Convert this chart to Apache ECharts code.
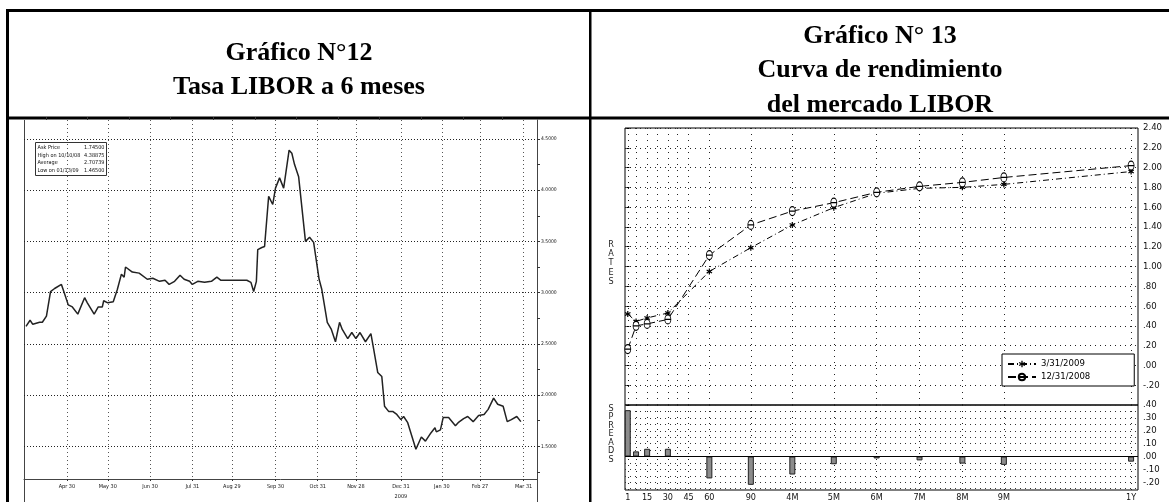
<!DOCTYPE html>
<html><head><meta charset="utf-8">
<script src="https://cdn.jsdelivr.net/npm/echarts@6/dist/echarts.min.js"></script>
<style>html,body{margin:0;padding:0;background:#fff}#c{width:1169px;height:502px}</style>
</head><body><div id="c"></div>
<script>
// ---------- Gráfico 12 : LIBOR 6 meses ----------
const liborDates = ['2008-03-31','2008-04-03','2008-04-05','2008-04-10','2008-04-12','2008-04-15','2008-04-18','2008-04-21','2008-04-26','2008-04-28',
'2008-05-01','2008-05-04','2008-05-08','2008-05-13','2008-05-15','2008-05-20','2008-05-23','2008-05-26','2008-05-27','2008-05-30',
'2008-06-03','2008-06-06','2008-06-09','2008-06-11','2008-06-12','2008-06-17','2008-06-22','2008-06-28','2008-07-02','2008-07-07',
'2008-07-11','2008-07-14','2008-07-18','2008-07-22','2008-07-25','2008-07-29','2008-07-31','2008-08-04','2008-08-09','2008-08-14',
'2008-08-18','2008-08-21','2008-08-29','2008-09-09','2008-09-12','2008-09-14','2008-09-16','2008-09-17','2008-09-20','2008-09-22',
'2008-09-25','2008-09-28','2008-09-30','2008-10-03','2008-10-06','2008-10-10','2008-10-12','2008-10-14','2008-10-17','2008-10-22',
'2008-10-25','2008-10-28','2008-10-31','2008-11-01','2008-11-03','2008-11-07','2008-11-10','2008-11-13','2008-11-16','2008-11-18',
'2008-11-22','2008-11-25','2008-11-28','2008-12-01','2008-12-05','2008-12-09','2008-12-11','2008-12-14','2008-12-17','2008-12-19',
'2008-12-22','2008-12-25','2008-12-28','2008-12-31','2009-01-02','2009-01-05','2009-01-08','2009-01-11','2009-01-12','2009-01-15',
'2009-01-18','2009-01-22','2009-01-25','2009-01-26','2009-01-29','2009-01-31','2009-02-04','2009-02-09','2009-02-11','2009-02-15',
'2009-02-18','2009-02-22','2009-02-26','2009-03-02','2009-03-05','2009-03-09','2009-03-12','2009-03-16','2009-03-19','2009-03-22',
'2009-03-26','2009-03-29'];
const liborValues = [2.67,2.73,2.69,2.71,2.71,2.77,3.01,3.04,3.08,3.00,
2.88,2.86,2.79,2.95,2.90,2.79,2.86,2.86,2.92,2.90,
2.91,3.03,3.18,3.15,3.25,3.20,3.19,3.13,3.14,3.11,
3.12,3.08,3.11,3.17,3.13,3.11,3.08,3.11,3.10,3.11,
3.15,3.12,3.12,3.12,3.10,3.01,3.11,3.42,3.44,3.45,
3.94,3.86,4.02,4.12,4.02,4.39,4.36,4.25,4.13,3.50,
3.54,3.49,3.22,3.13,3.03,2.71,2.64,2.52,2.71,2.64,
2.55,2.61,2.55,2.61,2.52,2.60,2.45,2.22,2.18,1.89,
1.84,1.84,1.81,1.76,1.79,1.73,1.60,1.47,1.48,1.59,
1.55,1.63,1.68,1.64,1.66,1.78,1.78,1.70,1.73,1.77,
1.79,1.74,1.80,1.81,1.86,1.97,1.91,1.89,1.74,1.76,
1.79,1.74];
const liborTickDates = ['2008-04-30','2008-05-30','2008-06-30','2008-07-31','2008-08-29','2008-09-30','2008-10-31','2008-11-28','2008-12-31','2009-01-30','2009-02-27','2009-03-31'];
const liborTickLabels = ['Apr 30','May 30','Jun 30','Jul 31','Aug 29','Sep 30','Oct 31','Nov 28','Dec 31\n2009','Jan 30','Feb 27','Mar 31'];
const liborMinorDates = ['2008-04-15','2008-05-15','2008-06-15','2008-07-15','2008-08-15','2008-09-15','2008-10-15','2008-11-15','2008-12-15','2009-01-15','2009-02-15','2009-03-15'];
const liborYTicks = [1.5,2.0,2.5,3.0,3.5,4.0,4.5];
const liborYMinor = [1.25,1.5,1.75,2.0,2.25,2.5,2.75,3.0,3.25,3.5,3.75,4.0,4.25,4.5];
const liborStatLabels = ['Ask Price','High on 10/10/08','Average','Low on 01/13/09'];
const liborStatValues = ['1.74500','4.38875','2.70739','1.46500'];

// ---------- Gráfico 13 : curva LIBOR ----------
const tenorDays = [1,7,15,30,60,90,120,150,181,212,243,273,365];
const rates2009 = [0.52,0.445,0.48,0.53,0.95,1.19,1.42,1.595,1.74,1.79,1.80,1.83,1.96];
const rates2008 = [0.165,0.40,0.42,0.465,1.115,1.42,1.56,1.645,1.75,1.81,1.85,1.90,2.02];
const spreads = [0.36,0.04,0.06,0.06,-0.17,-0.22,-0.14,-0.06,-0.015,-0.03,-0.055,-0.065,-0.04];
const tenorLabelDays = [1,15,30,45,60,90,120,150,181,212,243,273,365];
const tenorLabels = ['1','15','30','45','60','90','4M','5M','6M','7M','8M','9M','1Y'];
const tenorGridDays = [1,7,15,22,30,37,45,60,90,120,150,181,212,243,273,365];
const spreadLabelTicks = [-0.2,-0.1,0,0.1,0.2,0.3,0.4];
const spreadGridTicks = [-0.25,-0.2,-0.15,-0.1,-0.05,0,0.05,0.1,0.15,0.2,0.25,0.3,0.35,0.4];
const seriesNames = ['3/31/2009','12/31/2008'];

function ts(s){const p=s.split('-').map(Number);return new Date(p[0],p[1]-1,p[2]).getTime();}
const tickTs = liborTickDates.map(ts);
const minorTs = liborMinorDates.map(ts);
const xMin = new Date(2008,2,29,13).getTime();
const xMax = new Date(2009,3,9,20).getTime();
const fmtRate = v => { const a = Math.abs(v); let s = a.toFixed(2); if (a < 1) s = s.slice(1); return (v < -1e-9 ? '-' : '') + s; };
const NARROW = '"Liberation Sans Narrow","DejaVu Sans Condensed","Liberation Sans",sans-serif';

const asteriskPath = 'path://M4,0h2v3.3l2.9-1.6l1,1.7L7,5l2.9,1.6l-1,1.7L6,6.7V10H4V6.7L1.1,8.3l-1-1.7L3,5L0.1,3.4l1-1.7L4,3.3z';
const thetaPath = 'path://M5,0C2.2,0,0,3.1,0,7s2.2,7,5,7s5-3.1,5-7S7.8,0,5,0z M0.5,7L9.5,7';

const chart = echarts.init(document.getElementById('c'), null, {renderer:'canvas'});

const titleFont = 'bold 26px "Liberation Serif","Times New Roman",serif';
const graphics = [
  {type:'rect', shape:{x:6,y:9,width:1163,height:3}, style:{fill:'#000'}},
  {type:'rect', shape:{x:6,y:9,width:3,height:493}, style:{fill:'#000'}},
  {type:'rect', shape:{x:6,y:116.5,width:1163,height:3}, style:{fill:'#000'}},
  {type:'rect', shape:{x:589,y:9,width:2.5,height:493}, style:{fill:'#000'}},
  {type:'text', x:299, y:53, style:{text:'Gráfico N°12', font:titleFont, fill:'#000', textAlign:'center', textVerticalAlign:'middle'}},
  {type:'text', x:299, y:87, style:{text:'Tasa LIBOR a 6 meses', font:titleFont, fill:'#000', textAlign:'center', textVerticalAlign:'middle'}},
  {type:'text', x:880, y:36, style:{text:'Gráfico N° 13', font:titleFont, fill:'#000', textAlign:'center', textVerticalAlign:'middle'}},
  {type:'text', x:880, y:70.5, style:{text:'Curva de rendimiento', font:titleFont, fill:'#000', textAlign:'center', textVerticalAlign:'middle'}},
  {type:'text', x:880, y:105, style:{text:'del mercado LIBOR', font:titleFont, fill:'#000', textAlign:'center', textVerticalAlign:'middle'}},
  {type:'line', shape:{x1:24.5,y1:120,x2:24.5,y2:502}, style:{stroke:'#444',lineWidth:1}},
  {type:'line', shape:{x1:537.5,y1:120,x2:537.5,y2:502}, style:{stroke:'#444',lineWidth:1}},
  {type:'rect', shape:{x:35.5,y:142.5,width:71,height:33}, style:{fill:'#fff',stroke:'#333',lineWidth:1}},
  {type:'text', x:611, y:263, style:{text:'R\nA\nT\nE\nS', font:'9px '+NARROW, lineHeight:9.3, fill:'#222', textAlign:'center', textVerticalAlign:'middle'}},
  {type:'text', x:611, y:434, style:{text:'S\nP\nR\nE\nA\nD\nS', font:'9px '+NARROW, lineHeight:8.5, fill:'#222', textAlign:'center', textVerticalAlign:'middle'}}
];
liborStatLabels.forEach((l,i)=>{
  graphics.push({type:'text', x:37.5, y:148+i*7.5, style:{text:l, font:'5.5px '+NARROW, fill:'#111', textAlign:'left', textVerticalAlign:'middle'}});
  graphics.push({type:'text', x:104.5, y:148+i*7.5, style:{text:liborStatValues[i], font:'5.5px '+NARROW, fill:'#111', textAlign:'right', textVerticalAlign:'middle'}});
});

const option = {
  animation:false,
  backgroundColor:'#fff',
  legend:{
    data:seriesNames, orient:'vertical', left:1002, top:354,
    backgroundColor:'#fff', borderColor:'#000', borderWidth:1, borderRadius:0,
    padding:[5,44,4,5], itemWidth:28, itemHeight:8, itemGap:3,
    textStyle:{fontSize:9.5, lineHeight:10, fontFamily:NARROW, color:'#000'}
  },
  grid:[
    {left:24, top:120, width:513, height:360, show:false},
    {left:625, top:128, width:513, height:277, show:true, borderColor:'#000', borderWidth:1, backgroundColor:'transparent'},
    {left:625, top:405, width:513, height:87, show:true, borderColor:'#000', borderWidth:1, backgroundColor:'transparent'}
  ],
  xAxis:[
    {type:'value', gridIndex:0, min:xMin, max:xMax,
     axisLine:{show:true, lineStyle:{color:'#444', width:1}},
     axisTick:{show:true, customValues:tickTs, length:2, lineStyle:{color:'#333'}},
     axisLabel:{customValues:tickTs, fontSize:5.5, fontFamily:NARROW, color:'#111', margin:3, lineHeight:10,
       formatter:(v)=>{const i=tickTs.indexOf(v);return i>=0?liborTickLabels[i]:'';}},
     splitLine:{show:true, lineStyle:{color:'#555', type:[1,3], width:1}}},
    {type:'value', gridIndex:0, min:xMin, max:xMax,
     axisLine:{show:false}, axisLabel:{show:false}, splitLine:{show:false},
     axisTick:{show:true, customValues:minorTs, length:3, lineStyle:{color:'#333'}}},
    {type:'value', gridIndex:1, min:-1, max:370,
     axisLine:{show:false}, axisLabel:{show:false},
     axisTick:{show:false, customValues:tenorGridDays},
     splitLine:{show:true, lineStyle:{color:'#222', type:[1,5], width:1}}},
    {type:'value', gridIndex:2, min:-1, max:370,
     axisLine:{show:false},
     axisTick:{show:false, customValues:tenorGridDays},
     axisLabel:{customValues:tenorLabelDays, fontSize:9, fontFamily:NARROW, color:'#111', margin:3,
       formatter:(v)=>{const i=tenorLabelDays.indexOf(v);return i>=0?tenorLabels[i]:'';}},
     splitLine:{show:true, lineStyle:{color:'#222', type:[1,5], width:1}}}
  ],
  yAxis:[
    {type:'value', gridIndex:0, position:'right', min:1.18, max:4.685,
     axisLine:{show:true, lineStyle:{color:'#444', width:1}},
     axisTick:{show:true, customValues:liborYMinor, length:3, lineStyle:{color:'#333'}},
     axisLabel:{customValues:liborYTicks, fontSize:5, fontFamily:NARROW, color:'#111', margin:4, formatter:v=>v.toFixed(4)},
     splitLine:{show:false}},
    {type:'value', gridIndex:0, position:'right', min:1.18, max:4.685,
     axisLine:{show:false}, axisLabel:{show:false},
     axisTick:{show:false, customValues:liborYTicks},
     splitLine:{show:true, lineStyle:{color:'#222', type:[1,2], width:1}}},
    {type:'value', gridIndex:1, position:'right', min:-0.4, max:2.4, interval:0.2,
     axisLine:{show:false},
     axisTick:{show:true, length:3, lineStyle:{color:'#000'}},
     axisLabel:{fontSize:9.5, fontFamily:NARROW, color:'#111', margin:5,
       formatter:v=>(v < -0.39 ? '' : fmtRate(v))},
     splitLine:{show:true, lineStyle:{color:'#222', type:[1,4], width:1}}},
    {type:'value', gridIndex:2, position:'right', min:-0.26, max:0.40,
     axisLine:{show:false},
     axisTick:{show:false, customValues:spreadGridTicks},
     axisLabel:{customValues:spreadLabelTicks, fontSize:9.5, fontFamily:NARROW, color:'#111', margin:5, formatter:fmtRate},
     splitLine:{show:true, lineStyle:{color:'#333', type:[1,4], width:1}}}
  ],
  series:[
    {name:'LIBOR 6M', type:'line', xAxisIndex:0, yAxisIndex:0,
     data:liborDates.map((d,i)=>[ts(d), liborValues[i]]),
     showSymbol:false, lineStyle:{color:'#222', width:1.5}, itemStyle:{color:'#222'}},
    {name:seriesNames[0], type:'line', xAxisIndex:2, yAxisIndex:2,
     data:tenorDays.map((d,i)=>[d, rates2009[i]]),
     symbol:asteriskPath, symbolSize:6, showSymbol:true,
     lineStyle:{color:'#000', width:1, type:[6,3,1,3]}, itemStyle:{color:'#000'}},
    {name:seriesNames[1], type:'line', xAxisIndex:2, yAxisIndex:2,
     data:tenorDays.map((d,i)=>[d, rates2008[i]]),
     symbol:thetaPath, symbolSize:[6,9], showSymbol:true,
     lineStyle:{color:'#000', width:1, type:[8,4]}, itemStyle:{color:'#fff', borderColor:'#000', borderWidth:1}},
    {name:'Spreads', type:'bar', xAxisIndex:3, yAxisIndex:3,
     data:tenorDays.map((d,i)=>[d, spreads[i]]), barWidth:6,
     itemStyle:{color:'#8c8c8c', borderColor:'#222', borderWidth:1},
     markLine:{silent:true, symbol:'none', label:{show:false}, lineStyle:{color:'#000', type:'solid', width:1.2},
       data:[{yAxis:0}]}}
  ],
  graphic:graphics
};
chart.setOption(option);
</script></body></html>
